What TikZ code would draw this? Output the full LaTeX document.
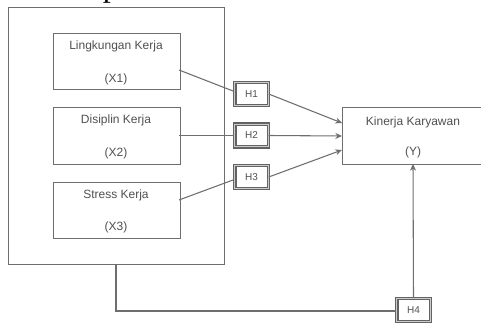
\documentclass[tikz,border=0pt]{standalone}
\usepackage{fontspec}
\setmainfont{Liberation Sans}
\newfontfamily\topfont{Liberation Serif}
\usetikzlibrary{arrows.meta}
\definecolor{ln}{HTML}{6E6E6E}
\definecolor{tx}{HTML}{505050}
\tikzset{
  box/.style={draw=ln, line width=0.8pt, rectangle, inner sep=0pt},
  hbox/.style={draw=ln!90!black, line width=0.8pt, double=ln!35, double distance=0.9pt, rectangle, inner sep=0pt, minimum width=25pt, minimum height=17pt, font=\fontsize{7.5}{9}\selectfont, text=tx},
  lbl/.style={font=\fontsize{9}{11}\selectfont, text=tx, inner sep=0pt},
  conn/.style={draw=ln, line width=0.8pt},
  arr/.style={conn, -{Stealth[length=5pt,width=4.5pt]}}
}
\begin{document}
\begin{tikzpicture}[x=0.75pt,y=-0.75pt]
\useasboundingbox (0,0) rectangle (481,324);
\clip (0,0) rectangle (481,324);
% cut-off text line at the top
\node[anchor=base west, inner sep=0pt, font=\topfont\fontsize{24}{28}\selectfont] (top) at (4,-3) {beserta penelitian terdahulu.};
% outer box
\node[box, minimum width=162pt, minimum height=192.75pt, anchor=north west] (outer) at (8,7) {};
% X boxes
\node[box, minimum width=95.25pt, minimum height=42pt, anchor=north west] (X1) at (52.5,33) {};
\node[box, minimum width=95.25pt, minimum height=42.75pt, anchor=north west] (X2) at (52.5,107) {};
\node[box, minimum width=95.25pt, minimum height=42pt, anchor=north west] (X3) at (52.5,182) {};
\node[lbl] (X1a) at (116,46) {Lingkungan Kerja};
\node[lbl] (X1b) at (116,79) {(X1)};
\node[lbl] (X2a) at (116,120) {Disiplin Kerja};
\node[lbl] (X2b) at (116,153) {(X2)};
\node[lbl] (X3a) at (116,195) {Stress Kerja};
\node[lbl] (X3b) at (116,227) {(X3)};
% H boxes
\node[hbox] (H1) at (251.5,94) {H1};
\node[hbox] (H2) at (251.5,135.5) {H2};
\node[hbox] (H3) at (251.5,177) {H3};
\node[hbox] (H4) at (413.5,310) {H4};
% Y box
\node[box, minimum width=111pt, minimum height=42.75pt, anchor=north west] (Y) at (342,107) {};
\node[lbl] (Ya) at (413,122) {Kinerja Karyawan};
\node[lbl] (Yb) at (413,152) {(Y)};
% connection points
\coordinate (x1o) at (179,70);
\coordinate (x2o) at (179,135.5);
\coordinate (x3o) at (179,200);
\coordinate (h1i) at (233,91);
\coordinate (h3i) at (233,180);
\coordinate (y1) at (342,123);
\coordinate (y2) at (342,136);
\coordinate (y3) at (342,150);
\coordinate (y4) at (413,164);
\coordinate (ob) at (116,264);
\coordinate (corner) at (116,311);
% connectors
\draw[conn] (x1o) -- (h1i);
\draw[conn] (x2o) -- (x2o -| H2.west);
\draw[conn] (x3o) -- (h3i);
\draw[arr] (H1.east) -- (y1);
\draw[arr] (H2.east) -- (y2);
\draw[arr] (H3.east) -- (y3);
\draw[conn] (ob) -- (corner) -- (H4.west |- corner);
\draw[arr] (H4.north) -- (y4);
\end{tikzpicture}
\end{document}
